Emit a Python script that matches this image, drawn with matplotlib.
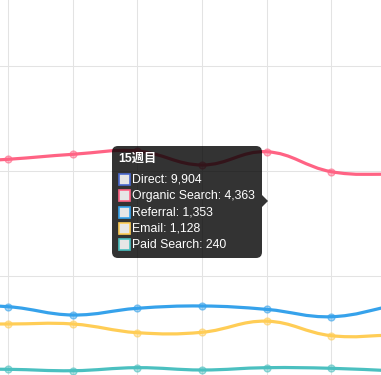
import numpy as np
import matplotlib
matplotlib.use('Agg')
from matplotlib import pyplot as plt
from matplotlib.path import Path
from matplotlib.patches import PathPatch, FancyBboxPatch, Rectangle, Polygon
from matplotlib.transforms import Affine2D

W, H = 381, 375
plt.rcParams['font.family'] = ['Liberation Sans', 'Noto Sans CJK JP', 'DejaVu Sans']

# data (weeks 10..17, only 11..16 fully visible)
weeks = [10, 11, 12, 13, 14, 15, 16, 17]
direct = [9600, 9650, 9720, 9800, 9750, 9904, 9700, 9650]
organic = [4148, 4219, 4314, 4377, 4110, 4363, 3982, 3928]
referral = [1420, 1404, 1246, 1374, 1418, 1353, 1213, 1437]
email = [1074, 1074, 1074, 908, 916, 1128, 851, 864]
paid = [215, 209, 182, 240, 196, 240, 228, 177]

series = [
    ('Direct', direct, '#4b6ad0'),
    ('Organic Search', organic, '#ff6384'),
    ('Referral', referral, '#36a2eb'),
    ('Email', email, '#ffcd56'),
    ('Paid Search', paid, '#4bc0c0'),
]
hover_week = 15
title = '15週目'

def spline(ax, xs, ys, tension=0.4):
    # chart.js style bezier, computed in pixel space
    pts = ax.transData.transform(np.column_stack([xs, ys]))
    n = len(pts)
    cprev, cnext = [], []
    for i in range(n):
        p0 = pts[max(i-1, 0)]; p1 = pts[i]; p2 = pts[min(i+1, n-1)]
        d01 = np.hypot(*(p1-p0)); d12 = np.hypot(*(p2-p1))
        tot = d01 + d12
        s01 = d01/tot if tot else 0
        s12 = d12/tot if tot else 0
        cprev.append(p1 - tension*s01*(p2-p0))
        cnext.append(p1 + tension*s12*(p2-p0))
    verts = [pts[0]]
    codes = [Path.MOVETO]
    for i in range(1, n):
        verts += [cnext[i-1], cprev[i], pts[i]]
        codes += [Path.CURVE4]*3
    verts = ax.transData.inverted().transform(np.array(verts))
    return Path(verts, codes)

fig = plt.figure(figsize=(W/100, H/100), dpi=100)
ax = fig.add_axes([0, 0, 1, 1])
ax.set_xlim(11 - 8.3/64.6, 11 + (W-8.3)/64.6)
ax.set_ylim((380.25-H)/0.052375, 380.25/0.052375)
ax.axis('off')

gc = '#e3e3e3'
for wk in range(11, 17):
    ax.axvline(wk, color=gc, lw=0.75, zorder=0)
for v in range(0, 8001, 2000):
    ax.axhline(v, color=gc, lw=0.75, zorder=0)

for name, vals, col in series:
    p = spline(ax, weeks, vals)
    ax.add_patch(PathPatch(p, fc='none', ec=col, lw=2.3, zorder=2))
    rgb = matplotlib.colors.to_rgb(col)
    ax.plot(weeks, vals, 'o', ms=5, mfc=rgb + (0.45,), mec=rgb + (0.6,),
            mew=0.9, zorder=3)

# tooltip, in pixel coordinates from the top-left
pix = Affine2D().scale(1, -1).translate(0, H)
x0, y0, x1, y1 = 112, 146, 262, 258
box = FancyBboxPatch((x0, y0), x1-x0, y1-y0, boxstyle='round,pad=0,rounding_size=6',
                     fc=(0, 0, 0, 0.8), ec='none', transform=pix)
fig.add_artist(box)
fig.add_artist(Polygon([(x1, 195), (x1+6, 201), (x1, 207)], closed=True,
                       fc=(0, 0, 0, 0.8), ec='none', transform=pix))

def ftext(x, y, s, **kw):
    fig.text(x/W, 1 - y/H, s, color='white', va='center', ha='left', **kw)

ftext(118, 158.5, title, fontsize=8.8, fontweight='bold')
i = list(weeks).index(hover_week)
for k, (name, vals, col) in enumerate(series):
    yc = 179.5 + k*16.3
    fig.add_artist(Rectangle((118.5, yc-5.5), 11, 11, fc='#e6e6e6', ec=col,
                             lw=1.2, transform=pix))
    ftext(132, yc, f'{name}: {vals[i]:,}', fontsize=8.8)

fig.savefig('out.png', dpi=100)
